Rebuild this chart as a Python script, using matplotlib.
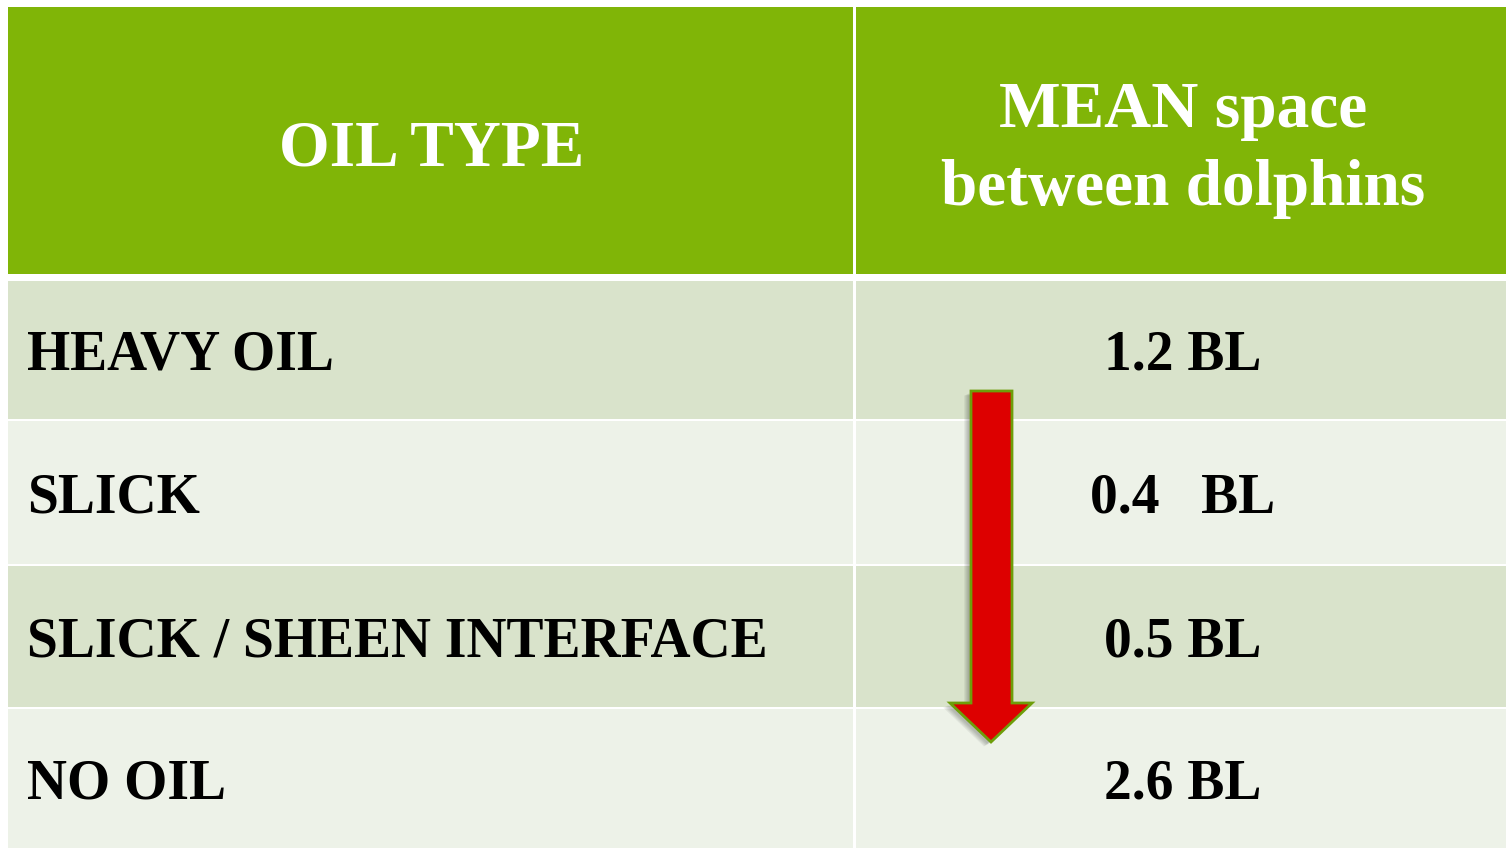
import matplotlib.pyplot as plt
from matplotlib.patches import Rectangle, Polygon

# Table content
header_left = "OIL TYPE"
header_right = ["MEAN space", "between dolphins"]
oil_types = ["HEAVY OIL", "SLICK", "SLICK / SHEEN INTERFACE", "NO OIL"]
mean_space = ["1.2 BL", "0.4   BL", "0.5 BL", "2.6 BL"]

# Layout in pixel units
W, H = 1506, 848
x0, x_split, x1 = 8, 855, 1508
head_top, head_bot = 7, 274
row_edges = [281, 421, 566, 709, 850]

green = "#80B507"
row_colors = ["#D9E3CB", "#EDF2E8"]
font = "Liberation Serif"

fig = plt.figure(figsize=(15.06, 8.48), dpi=100)
ax = fig.add_axes([0, 0, 1, 1])
ax.set_xlim(0, W)
ax.set_ylim(H, 0)
ax.axis("off")

# header
ax.add_patch(Rectangle((x0, head_top), x_split - x0 - 1.5, head_bot - head_top, color=green, lw=0))
ax.add_patch(Rectangle((x_split + 1.5, head_top), x1 - x_split, head_bot - head_top, color=green, lw=0))
ax.text((x0 + x_split) / 2, 165, header_left, color="white",
        fontsize=47, fontweight="bold", family=font, ha="center", va="baseline")
for line, yb in zip(header_right, [127, 205]):
    ax.text(1183, yb, line, color="white",
            fontsize=47, fontweight="bold", family=font, ha="center", va="baseline")

# body rows
for i, (name, val) in enumerate(zip(oil_types, mean_space)):
    top, bot = row_edges[i], row_edges[i + 1] - 2
    c = row_colors[i % 2]
    ax.add_patch(Rectangle((x0, top), x_split - x0 - 1.5, bot - top, color=c, lw=0))
    ax.add_patch(Rectangle((x_split + 1.5, top), x1 - x_split, bot - top, color=c, lw=0))
    yb = (top + bot) / 2 + 20
    ax.text(27, yb, name, fontsize=40, fontweight="bold", family=font, ha="left", va="baseline")
    ax.text(1183, yb, val, fontsize=40, fontweight="bold", family=font, ha="center", va="baseline")

# red down arrow with soft shadow
arrow = [(971, 391), (1012, 391), (1012, 703), (1032, 703), (991, 742),
         (950, 703), (971, 703)]
for k in range(1, 6):
    shadow = [(x - 2 - k, y + 2 + k * 0.5) for x, y in arrow]
    ax.add_patch(Polygon(shadow, closed=True, color="black", alpha=0.05, lw=0))
ax.add_patch(Polygon(arrow, closed=True, facecolor="#DD0000", edgecolor="#6E9E0A", lw=2))

fig.savefig("out.png", dpi=100)
